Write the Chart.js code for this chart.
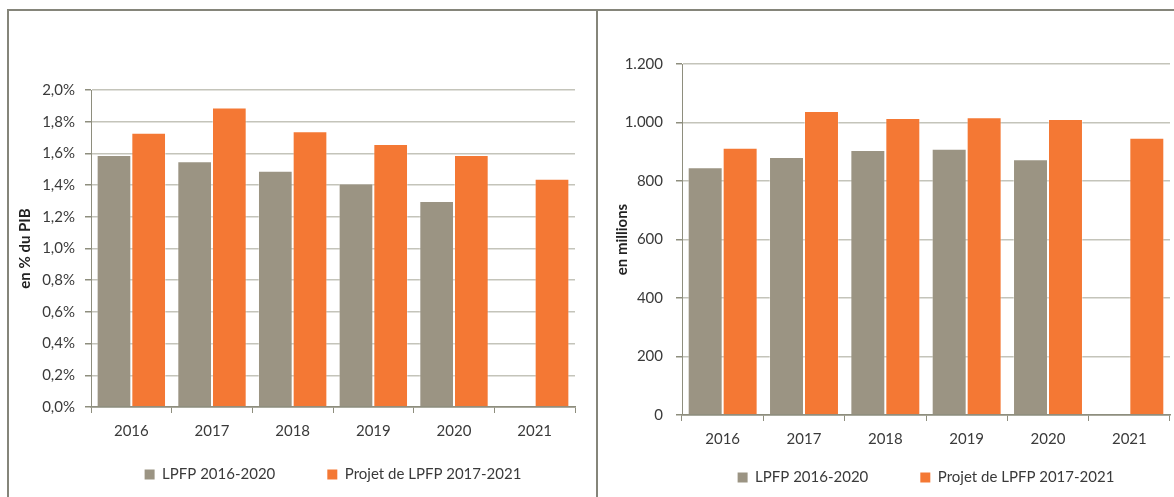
<!DOCTYPE html>
<html>
<head>
<meta charset="utf-8">
<script src="https://cdn.jsdelivr.net/npm/chart.js@4/dist/chart.umd.min.js"></script>
<style>
  html, body { margin: 0; padding: 0; background: #fff; }
  body { width: 1174px; height: 497px; position: relative; overflow: hidden; }
  .line { position: absolute; background: #85857a; }
  #frameTop { left: 7px; top: 9px; width: 1167px; height: 2px; }
  #frameLeft { left: 7px; top: 9px; width: 2px; height: 488px; }
  #frameMid { left: 596px; top: 9px; width: 2px; height: 488px; }
  .box { position: absolute; top: 11px; height: 486px; }
  #boxLeft { left: 9px; width: 587px; }
  #boxRight { left: 598px; width: 576px; }
</style>
</head>
<body>
<div class="line" id="frameTop"></div>
<div class="line" id="frameLeft"></div>
<div class="line" id="frameMid"></div>
<div class="box" id="boxLeft"><canvas id="chartPib"></canvas></div>
<div class="box" id="boxRight"><canvas id="chartMillions"></canvas></div>
<script>
const years = ['2016', '2017', '2018', '2019', '2020', '2021'];
const labelOld = 'LPFP 2016-2020';
const labelNew = 'Projet de LPFP 2017-2021';

// en % du PIB
const pibOld = [1.59, 1.55, 1.49, 1.41, 1.30, null];
const pibNew = [1.73, 1.89, 1.74, 1.66, 1.59, 1.44];

// en millions
const millionsOld = [847, 882, 906, 910, 874, null];
const millionsNew = [914, 1039, 1015, 1018, 1012, 948];

const colorOld = '#9b9483';
const colorNew = '#f47834';
const edgeColor = 'rgba(255, 255, 255, 0.35)';
const gridColor = '#c4c4ba';
const axisColor = '#8e8e7e';
const textColor = '#3a3a3a';
const fontFamily = 'Lato, "Open Sans", sans-serif';

const fmtPct = v => v.toFixed(1).replace('.', ',') + '%';
const fmtMillions = v => String(Math.round(v)).replace(/\B(?=(\d{3})+(?!\d))/g, '.');

const buildChart = (canvasId, dataOld, dataNew, cfg) => {
  const ctx = document.getElementById(canvasId).getContext('2d');
  return new Chart(ctx, {
    type: 'bar',
    data: {
      labels: years,
      datasets: [
        {
          label: labelOld,
          data: dataOld,
          backgroundColor: colorOld,
          borderColor: edgeColor,
          borderWidth: 1,
          categoryPercentage: 0.86,
          barPercentage: 1.0
        },
        {
          label: labelNew,
          data: dataNew,
          backgroundColor: colorNew,
          borderColor: edgeColor,
          borderWidth: 1,
          categoryPercentage: 0.86,
          barPercentage: 1.0
        }
      ]
    },
    options: {
      responsive: true,
      maintainAspectRatio: false,
      animation: false,
      layout: {
        padding: { top: cfg.padTop, right: cfg.padRight, bottom: cfg.padBottom, left: 0 }
      },
      plugins: {
        tooltip: { enabled: false },
        legend: {
          position: 'bottom',
          fullSize: false,
          labels: {
            boxWidth: 10,
            boxHeight: 10,
            padding: 52,
            color: textColor,
            font: { family: fontFamily, size: 15 },
            generateLabels: chart => chart.data.datasets.map((ds, i) => ({
              text: ds.label,
              fillStyle: ds.backgroundColor,
              strokeStyle: ds.backgroundColor,
              lineWidth: 0,
              fontColor: textColor,
              datasetIndex: i
            }))
          }
        }
      },
      scales: {
        x: {
          grid: {
            offset: true,
            drawOnChartArea: false,
            tickLength: 6,
            tickColor: axisColor
          },
          border: { color: axisColor, width: 1.5 },
          ticks: {
            // mirrored so the labels are not clipped to the thin axis box
            mirror: true,
            padding: -33,
            color: textColor,
            font: { family: fontFamily, size: 15 }
          },
          afterFit: scale => { scale.height = cfg.xHeight; }
        },
        y: {
          min: cfg.min,
          max: cfg.max,
          grid: {
            color: c => (c.tick && c.tick.value === 0 ? axisColor : gridColor),
            lineWidth: 1.5,
            tickLength: 6,
            tickColor: axisColor
          },
          border: { color: axisColor, width: 1 },
          ticks: {
            stepSize: cfg.step,
            padding: cfg.tickPad,
            color: textColor,
            font: { family: fontFamily, size: 15 },
            callback: v => cfg.fmt(v)
          },
          title: {
            display: true,
            text: cfg.title,
            color: '#222',
            padding: { top: cfg.titlePad, bottom: 0 },
            font: { family: fontFamily, size: 15, weight: 'bold' }
          },
          afterFit: scale => { scale.width = cfg.yWidth; }
        }
      }
    }
  });
};

buildChart('chartPib', pibOld, pibNew, {
  min: 0, max: 2, step: 0.2, fmt: fmtPct, title: 'en % du PIB',
  padTop: 79, padRight: 21, padBottom: 5,
  xHeight: 8, yWidth: 82, tickPad: 10, titlePad: 7
});

buildChart('chartMillions', millionsOld, millionsNew, {
  min: 0, max: 1200, step: 200, fmt: fmtMillions, title: 'en millions',
  padTop: 53, padRight: 4, padBottom: 2,
  xHeight: 3, yWidth: 84, tickPad: 13, titlePad: 15
});
</script>
</body>
</html>
